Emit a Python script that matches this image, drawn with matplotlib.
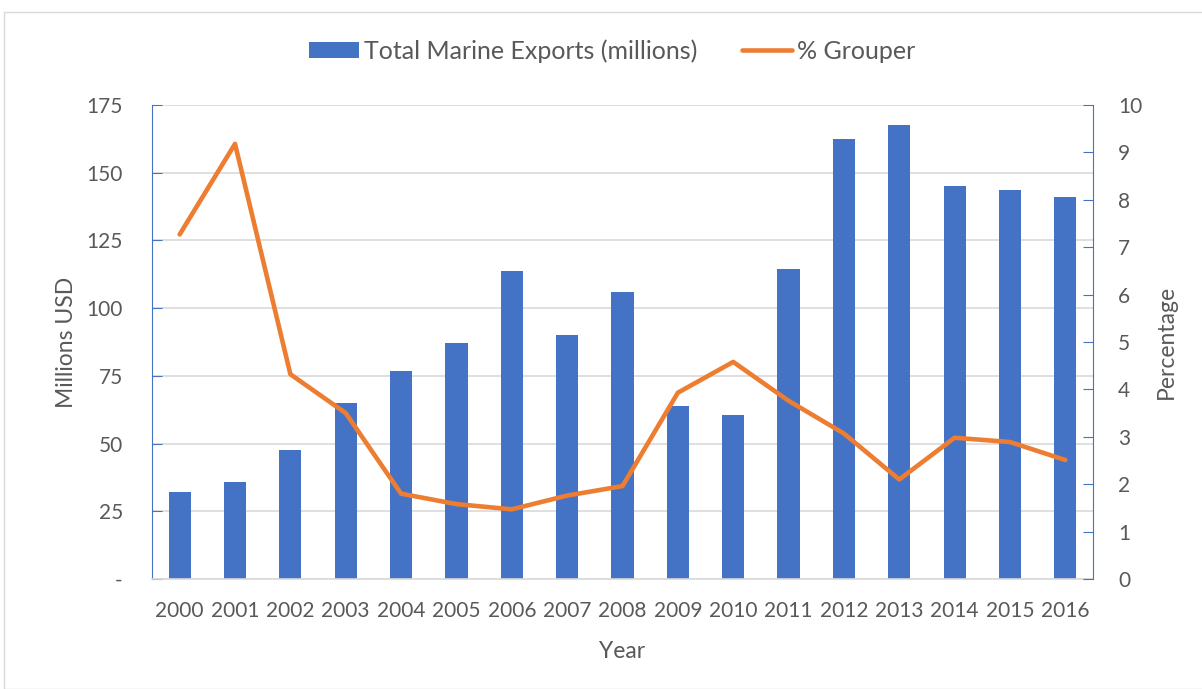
import matplotlib
matplotlib.use("Agg")
import matplotlib.pyplot as plt
from matplotlib.patches import Rectangle
from matplotlib.ticker import FixedLocator, FuncFormatter

years = ["2000", "2001", "2002", "2003", "2004", "2005", "2006", "2007", "2008",
         "2009", "2010", "2011", "2012", "2013", "2014", "2015", "2016"]
exports = [32.0, 35.8, 47.6, 65.0, 76.8, 87.3, 113.8, 90.2, 105.9,
           63.8, 60.7, 114.3, 162.5, 167.8, 145.0, 143.7, 140.9]
grouper_pct = [7.27, 9.18, 4.32, 3.50, 1.80, 1.58, 1.47, 1.76, 1.96,
               3.93, 4.58, 3.76, 3.07, 2.10, 2.98, 2.89, 2.51]
left_ticks = [0, 25, 50, 75, 100, 125, 150, 175]
right_ticks = [0, 1, 2, 3, 4, 5, 6, 7, 8, 9, 10]

BLUE = "#4472C4"
ORANGE = "#ED7D31"
TXT = "#595959"
GRID = "#D9D9D9"

plt.rcParams['font.family'] = ['Lato', 'DejaVu Sans']

fig = plt.figure(figsize=(12.02, 6.89), dpi=100)
fig.patches.append(Rectangle((4/1202, 0), 1.2, 1 - 12/689, transform=fig.transFigure,
                             fill=False, edgecolor=GRID, linewidth=1.0))

ax = fig.add_axes([152/1202, 1 - 579/689, (1093-152)/1202, (579-105)/689])
x = list(range(len(years)))
bars = ax.bar(x, exports, width=0.4, color=BLUE, zorder=2,
              label="Total Marine Exports (millions)")
ax.set_xlim(-0.5, len(years) - 0.5)
ax.set_ylim(0, 175)
ax.yaxis.set_major_locator(FixedLocator(left_ticks))
ax.yaxis.set_major_formatter(FuncFormatter(lambda v, p: "-" if v == 0 else f"{int(v)}"))
ax.grid(axis="y", color=GRID, linewidth=1.2, zorder=0)
ax.set_axisbelow(True)
ax.set_xticks(x)
ax.set_xticklabels(years)
for s in ["top", "right"]:
    ax.spines[s].set_visible(False)
ax.spines["left"].set_color(BLUE)
ax.spines["bottom"].set_color(GRID)
ax.spines["bottom"].set_linewidth(1.2)
ax.tick_params(axis="y", direction="in", length=7, color=BLUE, labelcolor=TXT,
               labelsize=15, pad=21)
ax.tick_params(axis="x", length=0, labelcolor=TXT, labelsize=15, pad=16)
ax.set_ylabel("Millions USD", color=TXT, fontsize=16.5, labelpad=7)
ax.set_xlabel("Year", color=TXT, fontsize=16.5, labelpad=14)

ax2 = ax.twinx()
line, = ax2.plot(x, grouper_pct, color=ORANGE, linewidth=3.3, zorder=3,
                 solid_capstyle="round", solid_joinstyle="round", label="% Grouper")
ax2.set_ylim(0, 10)
ax2.yaxis.set_major_locator(FixedLocator(right_ticks))
for s in ["top", "left", "bottom"]:
    ax2.spines[s].set_visible(False)
ax2.spines["right"].set_color(BLUE)
ax2.tick_params(axis="y", direction="in", length=7, color=BLUE, labelcolor=TXT,
                labelsize=15, pad=18)
ax2.set_ylabel("Percentage", color=TXT, fontsize=16.5, labelpad=10)

fig.legend([bars, line], ["Total Marine Exports (millions)", "% Grouper"],
           loc="center", bbox_to_anchor=(0.509, 1 - 51/689), ncol=2, frameon=False,
           fontsize=18, labelcolor=TXT, handlelength=2.0, handleheight=0.6,
           handletextpad=0.2, columnspacing=1.8)

fig.savefig("out.png", dpi=100)
